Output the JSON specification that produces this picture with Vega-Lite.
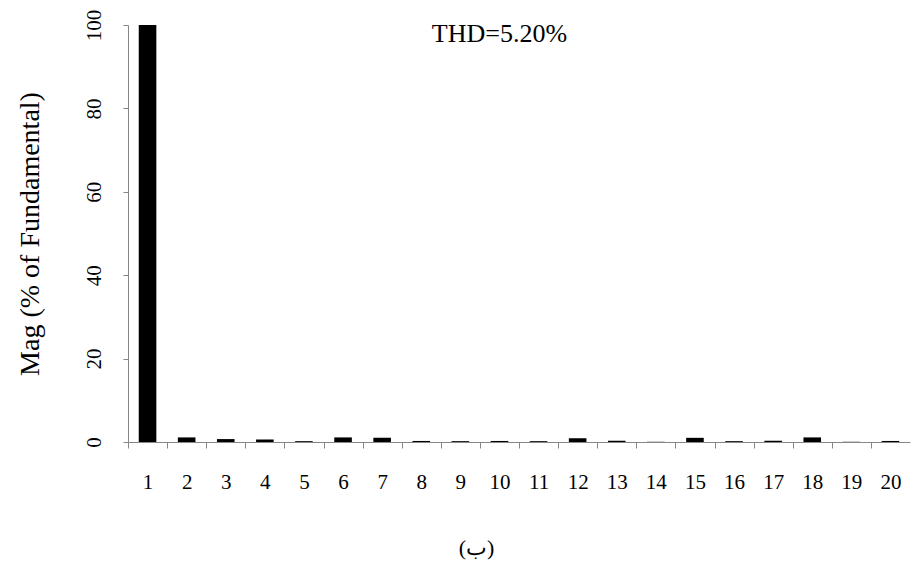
{
  "$schema": "https://vega.github.io/schema/vega-lite/v6.json",
  "width": 782,
  "height": 417,
  "autosize": {"type": "none"},
  "padding": {"left": 128, "top": 25, "right": 2, "bottom": 122},
  "background": "white",
  "config": {
    "view": {"stroke": null},
    "font": "Liberation Serif",
    "axis": {
      "labelFont": "Liberation Serif",
      "labelFontSize": 21,
      "labelColor": "black",
      "titleFont": "Liberation Serif",
      "titleFontWeight": "normal",
      "titleColor": "black",
      "domainColor": "#868686",
      "tickColor": "#868686",
      "grid": false
    }
  },
  "layer": [
    {
      "data": {
        "values": [
          {"harmonic": 1, "mag": 100},
          {"harmonic": 2, "mag": 1.1},
          {"harmonic": 3, "mag": 0.7},
          {"harmonic": 4, "mag": 0.6},
          {"harmonic": 5, "mag": 0.2},
          {"harmonic": 6, "mag": 1.1},
          {"harmonic": 7, "mag": 1.0},
          {"harmonic": 8, "mag": 0.25},
          {"harmonic": 9, "mag": 0.2},
          {"harmonic": 10, "mag": 0.25},
          {"harmonic": 11, "mag": 0.2},
          {"harmonic": 12, "mag": 0.9},
          {"harmonic": 13, "mag": 0.3},
          {"harmonic": 14, "mag": 0.05},
          {"harmonic": 15, "mag": 1.0},
          {"harmonic": 16, "mag": 0.2},
          {"harmonic": 17, "mag": 0.3},
          {"harmonic": 18, "mag": 1.1},
          {"harmonic": 19, "mag": 0.05},
          {"harmonic": 20, "mag": 0.25}
        ]
      },
      "mark": {"type": "bar", "color": "black"},
      "encoding": {
        "x": {
          "field": "harmonic",
          "type": "ordinal",
          "title": "(ب)",
          "scale": {"paddingInner": 0.55, "paddingOuter": 0.275},
          "axis": {
            "titleFontSize": 22,
            "titleX": 348,
            "titleY": 112,
            "titleAlign": "center",
            "titleBaseline": "alphabetic",
            "labelAngle": 0,
            "labelBaseline": "alphabetic",
            "labelPadding": 40,
            "tickSize": 6,
            "tickOffset": -19.55,
            "labelOffset": 19.55
          }
        },
        "y": {
          "field": "mag",
          "type": "quantitative",
          "title": "Mag (% of Fundamental)",
          "scale": {"domain": [0, 100], "nice": false},
          "axis": {
            "titleFontSize": 28,
            "titleX": -90,
            "titleY": 208.5,
            "titleAngle": 270,
            "titleAlign": "center",
            "titleBaseline": "alphabetic",
            "values": [0, 20, 40, 60, 80, 100],
            "labelAngle": 270,
            "labelAlign": "center",
            "labelBaseline": "alphabetic",
            "labelPadding": 23,
            "tickSize": 5
          }
        }
      }
    },
    {
      "data": {"values": [{"label": "THD=5.20%", "harmonic": 10, "pos": 96}]},
      "mark": {"type": "text", "font": "Liberation Serif", "fontSize": 26, "baseline": "alphabetic", "align": "center", "color": "black"},
      "encoding": {
        "x": {"field": "harmonic", "type": "ordinal", "title": "(ب)"},
        "y": {"field": "pos", "type": "quantitative", "title": "Mag (% of Fundamental)"},
        "text": {"field": "label"}
      }
    }
  ]
}
